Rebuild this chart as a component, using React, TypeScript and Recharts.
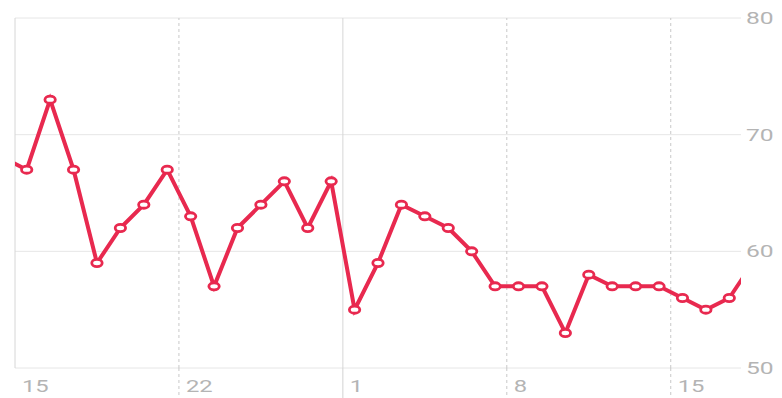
import React from "react";
import { LineChart, Line, XAxis, YAxis, CartesianGrid, ReferenceLine } from "recharts";

// daily values, Feb 14 .. Mar 18 (first and last fall just outside the view)
const heartRates = [
  68, 67, 73, 67, 59, 62, 64, 67, 63, 57, 62, 64, 66, 62, 66,
  55, 59, 64, 63, 62, 60, 57, 57, 57, 53, 58, 57, 57, 57, 56, 55, 56, 59,
];
// day offsets from Feb 15
const weekTicks = [0, 7, 14, 21, 28];
const weekLabels = ["15", "22", "1", "8", "15"];
const monthStarts = [14];
const yTicks = [50, 60, 70, 80];

const RED = "#e8294f";
const LABEL = "#b4b4b4";

const data = heartRates.map((v, i) => ({ day: i - 1 + 0.5, bpm: v }));

function Dot(props: any) {
  const { cx, cy } = props;
  if (cx == null || cy == null) return null;
  return <ellipse cx={cx} cy={cy} rx={5.2} ry={3.6} fill="#fff" stroke={RED} strokeWidth={2.8} />;
}

function XTick(props: any) {
  const { x, y, payload } = props;
  const v = payload.value;
  const label = weekLabels[weekTicks.indexOf(v)];
  const solid = monthStarts.includes(v);
  return (
    <g>
      {v > 0 && (
        <line
          x1={x}
          x2={x}
          y1={y}
          y2={y + 30}
          stroke={solid ? "#d2d2d2" : "#c8c8c8"}
          strokeDasharray={solid ? undefined : "3 3"}
        />
      )}
      <g transform={`translate(${x + 7},${y + 24})`}>
        <text transform="scale(1.4,1)" fill={LABEL} fontSize={17} fontFamily="Roboto">
          {label}
        </text>
      </g>
    </g>
  );
}

function YTick(props: any) {
  const { x, y, payload } = props;
  return (
    <g transform={`translate(${x + 5},${y + 6})`}>
      <text transform="scale(1.45,1)" fill={LABEL} fontSize={17} fontFamily="Roboto">
        {payload.value}
      </text>
    </g>
  );
}

export default function App() {
  return (
    <div style={{ position: "absolute", left: 0, top: 0, background: "#fff" }}>
      <LineChart width={782} height={398} data={data} margin={{ top: 18, right: 0, bottom: 0, left: 15 }}>
        <CartesianGrid vertical={false} stroke="#e6e6e6" />
        <XAxis
          dataKey="day"
          type="number"
          domain={[0, 31]}
          allowDataOverflow
          ticks={weekTicks}
          axisLine={false}
          tickLine={false}
          tickSize={0}
          tickMargin={0}
          height={30}
          tick={<XTick />}
          interval={0}
        />
        <YAxis
          orientation="right"
          domain={[50, 80]}
          ticks={yTicks}
          axisLine={false}
          tickLine={false}
          tickSize={0}
          tickMargin={0}
          width={41}
          tick={<YTick />}
          interval={0}
        />
        {weekTicks.map((t) => (
          <ReferenceLine
            key={t}
            x={t}
            stroke={t === 0 || monthStarts.includes(t) ? "#d6d6d6" : "#c8c8c8"}
            strokeDasharray={t === 0 || monthStarts.includes(t) ? undefined : "3 3"}
          />
        ))}
        <Line
          type="linear"
          dataKey="bpm"
          stroke={RED}
          strokeWidth={4}
          dot={<Dot />}
          activeDot={false}
          isAnimationActive={false}
        />
      </LineChart>
    </div>
  );
}
